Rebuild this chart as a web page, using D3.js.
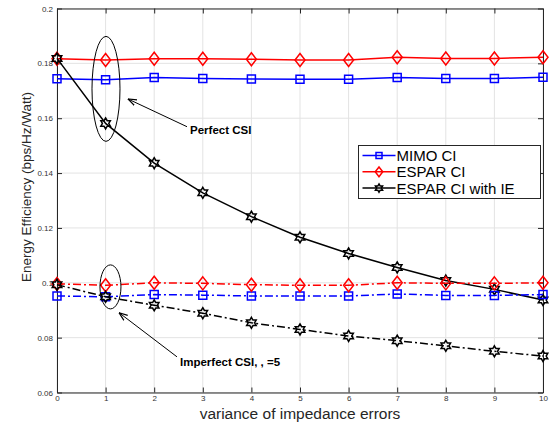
<!DOCTYPE html>
<html>
<head>
<meta charset="utf-8">
<script src="https://cdn.jsdelivr.net/npm/d3@7"></script>
<style>
  body { margin: 0; background: #fff; }
  text { font-family: "Liberation Sans", Arial, sans-serif; }
</style>
</head>
<body>
<svg width="553" height="425"></svg>
<script>
// data
var variance = [0, 1, 2, 3, 4, 5, 6, 7, 8, 9, 10];

var mimoPerfect  = [0.1744, 0.1740, 0.1748, 0.1745, 0.1743, 0.1742, 0.1742, 0.1748, 0.1745, 0.1745, 0.1749];
var esparPerfect = [0.1817, 0.1812, 0.1817, 0.1817, 0.1815, 0.1812, 0.1812, 0.1822, 0.1818, 0.1818, 0.1822];
var iePerfect    = [0.1818, 0.1581, 0.1436, 0.1328, 0.1241, 0.1166, 0.1107, 0.1056, 0.1008, 0.0976, 0.0937];

var mimoImperfect  = [0.0952, 0.0949, 0.0957, 0.0955, 0.0952, 0.0952, 0.0952, 0.0959, 0.0954, 0.0954, 0.0957];
var esparImperfect = [0.0996, 0.0991, 0.1000, 0.0998, 0.0993, 0.0991, 0.0991, 0.1000, 0.0998, 0.0998, 0.1000];
var ieImperfect    = [0.0993, 0.0949, 0.0918, 0.0889, 0.0854, 0.0830, 0.0806, 0.0789, 0.0770, 0.0750, 0.0733];

var yTicks = [0.06, 0.08, 0.1, 0.12, 0.14, 0.16, 0.18, 0.2];
var legendNames = ["MIMO CI", "ESPAR CI", "ESPAR CI with IE"];

var svg = d3.select("svg"),
    margin = {top: 8.5, right: 10, bottom: 32.5, left: 57},
    width = +svg.attr("width") - margin.left - margin.right,
    height = +svg.attr("height") - margin.top - margin.bottom,
    g = svg.append("g").attr("transform", "translate(" + margin.left + "," + margin.top + ")");

var x = d3.scaleLinear().domain([0, 10]).range([0, width]);
var y = d3.scaleLinear().domain([0.06, 0.2]).range([height, 0]);

// grid
g.append("g").selectAll("line").data(variance).enter().append("line")
    .attr("x1", function(d) { return x(d); }).attr("x2", function(d) { return x(d); })
    .attr("y1", 0).attr("y2", height)
    .attr("stroke", "#e3e3e3").attr("stroke-width", 1);
g.append("g").selectAll("line").data(yTicks).enter().append("line")
    .attr("y1", function(d) { return y(d); }).attr("y2", function(d) { return y(d); })
    .attr("x1", 0).attr("x2", width)
    .attr("stroke", "#e3e3e3").attr("stroke-width", 1);

// axes
function styleAxis(sel) {
  sel.selectAll(".domain").attr("stroke", "#262626");
  sel.selectAll(".tick line").attr("stroke", "#262626");
  sel.selectAll("text").attr("fill", "#333").style("font-size", "8px");
}
g.append("g").attr("transform", "translate(0," + height + ")")
  .call(d3.axisBottom(x).tickValues(variance).tickSizeInner(-5).tickSizeOuter(0).tickPadding(3).tickFormat(d3.format("d")))
  .call(styleAxis);
g.append("g")
  .call(d3.axisLeft(y).tickValues(yTicks).tickSizeInner(-5).tickSizeOuter(0).tickPadding(4).tickFormat(function(d) { return d3.format("")(+d.toFixed(2)); }))
  .call(styleAxis);
g.append("g")
  .call(d3.axisTop(x).tickValues(variance).tickSizeInner(-5).tickSizeOuter(0).tickFormat(""))
  .call(styleAxis);
g.append("g").attr("transform", "translate(" + width + ",0)")
  .call(d3.axisRight(y).tickValues(yTicks).tickSizeInner(-5).tickSizeOuter(0).tickFormat(""))
  .call(styleAxis);

// six-pointed star marker
function hexagram(r) {
  var pts = [];
  for (var i = 0; i < 12; i++) {
    var a = -Math.PI / 2 + i * Math.PI / 6;
    var rr = i % 2 === 0 ? r : r / Math.sqrt(3);
    pts.push([rr * Math.cos(a), rr * Math.sin(a)]);
  }
  return "M" + pts.join("L") + "Z";
}
var markers = {
  square: function(s) { return "M" + (-s) + "," + (-s) + "H" + s + "V" + s + "H" + (-s) + "Z"; },
  diamond: function(s) { return "M0," + (-s * 1.3) + "L" + s + ",0L0," + (s * 1.3) + "L" + (-s) + ",0Z"; },
  star: function(s) { return hexagram(s); }
};

var series = [
  {vals: mimoPerfect, color: "#0000ff", marker: "square", size: 4, dash: null},
  {vals: esparPerfect, color: "#ff0000", marker: "diamond", size: 5, dash: null},
  {vals: iePerfect, color: "#000", marker: "star", size: 5.5, dash: null},
  {vals: mimoImperfect, color: "#0000ff", marker: "square", size: 4, dash: "8,3,2,3"},
  {vals: esparImperfect, color: "#ff0000", marker: "diamond", size: 5, dash: "8,3,2,3"},
  {vals: ieImperfect, color: "#000", marker: "star", size: 5.5, dash: "8,3,2,3"}
];

var line = d3.line()
  .x(function(d, i) { return x(variance[i]); })
  .y(function(d) { return y(d); });

series.forEach(function(s) {
  g.append("path")
    .datum(s.vals)
    .attr("fill", "none")
    .attr("stroke", s.color)
    .attr("stroke-width", 1.5)
    .attr("stroke-dasharray", s.dash)
    .attr("d", line);
  g.append("g").selectAll("path").data(s.vals).enter().append("path")
    .attr("transform", function(d, i) { return "translate(" + x(variance[i]) + "," + y(d) + ")"; })
    .attr("d", markers[s.marker](s.size))
    .attr("fill", "none")
    .attr("stroke", s.color)
    .attr("stroke-width", 1.5);
});

// annotations
svg.append("defs").append("marker")
  .attr("id", "arr").attr("viewBox", "0 0 10 10").attr("refX", 9.5).attr("refY", 5)
  .attr("markerUnits", "userSpaceOnUse")
  .attr("markerWidth", 9).attr("markerHeight", 9).attr("orient", "auto")
  .append("path").attr("d", "M0,1.5L9.5,5L0,8.5").attr("fill", "none").attr("stroke", "#000").attr("stroke-width", 1.3);

g.append("ellipse")
  .attr("cx", x(1.008)).attr("cy", y(0.1707))
  .attr("rx", 14).attr("ry", 52.5)
  .attr("fill", "none").attr("stroke", "#000").attr("stroke-width", 1);
g.append("line")
  .attr("x1", x(2.675)).attr("y1", y(0.1569)).attr("x2", x(1.461)).attr("y2", y(0.1670))
  .attr("stroke", "#000").attr("stroke-width", 1).attr("marker-end", "url(#arr)");
g.append("text").attr("x", x(2.737)).attr("y", y(0.1542))
  .style("font-size", "11.5px").style("font-weight", "bold").text("Perfect CSI");

g.append("ellipse")
  .attr("cx", x(1.10)).attr("cy", y(0.0985))
  .attr("rx", 10.5).attr("ry", 22)
  .attr("fill", "none").attr("stroke", "#000").attr("stroke-width", 1);
g.append("line")
  .attr("x1", x(2.469)).attr("y1", y(0.0730)).attr("x2", x(1.276)).attr("y2", y(0.0891))
  .attr("stroke", "#000").attr("stroke-width", 1).attr("marker-end", "url(#arr)");
g.append("text").attr("x", x(2.531)).attr("y", y(0.0697))
  .style("font-size", "11.5px").style("font-weight", "bold").text("Imperfect CSI,  ,  =5");

// axis titles
svg.append("text")
  .attr("transform", "translate(31,187) rotate(-90)")
  .attr("text-anchor", "middle").attr("fill", "#262626")
  .style("font-size", "13.5px").text("Energy Efficiency (bps/Hz/Watt)");
svg.append("text")
  .attr("x", margin.left + width / 2).attr("y", 418.5)
  .attr("text-anchor", "middle").attr("fill", "#262626")
  .style("font-size", "15.5px").text("variance of impedance errors");

// legend
var leg = svg.append("g").attr("transform", "translate(358.5,145.5)");
leg.append("rect").attr("width", 182).attr("height", 53)
  .attr("fill", "#fff").attr("stroke", "#262626").attr("stroke-width", 1);
var legSeries = series.slice(0, 3);
legSeries.forEach(function(s, i) {
  var ly = 10 + i * 16.3;
  leg.append("line").attr("x1", 4).attr("x2", 37).attr("y1", ly).attr("y2", ly)
    .attr("stroke", s.color).attr("stroke-width", 1.5);
  leg.append("path").attr("transform", "translate(20.5," + ly + ")")
    .attr("d", markers[s.marker](s.size * 0.75))
    .attr("fill", "none").attr("stroke", s.color).attr("stroke-width", 1.5);
  leg.append("text").attr("x", 38).attr("y", ly + 5.5)
    .style("font-size", "15px").attr("fill", "#000").text(legendNames[i]);
});
</script>
</body>
</html>
